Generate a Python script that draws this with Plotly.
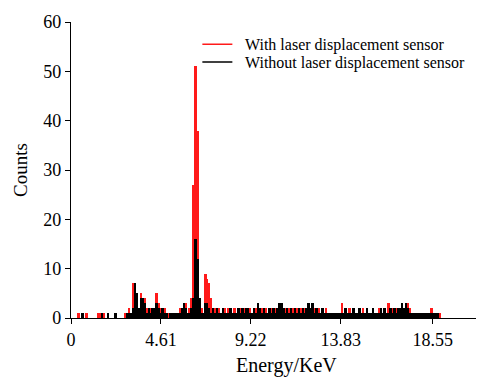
import numpy as np
import plotly.graph_objects as go

# Channel energies (keV), 0.1 keV per channel
channel_width = 0.1
energy = np.round(np.arange(191) * channel_width, 1)

with_sensor = [
    0, 0, 0, 0, 1, 0, 0, 0, 1, 0,
    0, 0, 0, 0, 1, 1, 0, 1, 0, 1,
    0, 0, 0, 0, 0, 0, 0, 0, 1, 1,
    2, 1, 7, 7, 4, 2, 5, 4, 4, 2,
    1, 2, 1, 2, 5, 3, 2, 1, 2, 1,
    1, 1, 1, 1, 1, 1, 2, 1, 3, 3,
    1, 2, 4, 27, 51, 38, 4, 2, 1, 9,
    8, 7, 4, 2, 2, 1, 2, 1, 1, 2,
    1, 2, 1, 1, 2, 1, 1, 2, 1, 2,
    1, 1, 2, 1, 1, 2, 2, 1, 2, 1,
    2, 1, 1, 2, 1, 2, 1, 2, 2, 1,
    2, 1, 2, 1, 2, 1, 2, 1, 2, 1,
    2, 1, 2, 1, 2, 2, 1, 2, 1, 1,
    1, 2, 1, 1, 1, 1, 1, 1, 1, 3,
    1, 1, 1, 2, 1, 1, 1, 1, 1, 1,
    2, 1, 1, 1, 1, 1, 1, 1, 2, 1,
    1, 1, 1, 3, 1, 2, 1, 2, 1, 2,
    2, 1, 3, 3, 2, 1, 1, 1, 1, 1,
    1, 1, 1, 1, 1, 2, 1, 1, 1, 1,
    0,
]

without_sensor = [
    0, 0, 0, 0, 0, 0, 1, 0, 0, 0,
    0, 0, 0, 0, 0, 0, 1, 0, 0, 1,
    0, 0, 0, 1, 0, 0, 0, 0, 0, 1,
    1, 1, 2, 7, 5, 2, 4, 4, 3, 1,
    2, 1, 2, 2, 3, 2, 1, 2, 1, 1,
    0, 1, 1, 1, 1, 1, 1, 2, 3, 2,
    1, 1, 2, 4, 16, 12, 4, 1, 1, 3,
    3, 2, 1, 2, 1, 2, 1, 1, 2, 1,
    1, 1, 2, 1, 1, 1, 2, 1, 2, 1,
    2, 2, 1, 1, 2, 1, 3, 2, 1, 2,
    1, 1, 2, 1, 2, 1, 2, 3, 3, 2,
    1, 2, 1, 2, 1, 2, 1, 2, 1, 2,
    1, 2, 3, 2, 3, 1, 2, 1, 1, 2,
    1, 1, 1, 1, 1, 1, 1, 1, 1, 1,
    1, 2, 1, 1, 1, 2, 1, 1, 2, 1,
    1, 1, 2, 1, 1, 2, 1, 1, 1, 2,
    1, 2, 1, 1, 2, 1, 2, 1, 2, 2,
    3, 2, 3, 2, 1, 1, 1, 1, 1, 1,
    1, 1, 1, 1, 1, 1, 1, 1, 1, 0,
    0,
]

x_tick_vals = [0, 4.61, 9.22, 13.83, 18.55]
x_tick_text = ["0", "4.61", "9.22", "13.83", "18.55"]
y_tick_vals = [0, 10, 20, 30, 40, 50, 60]

series_names = ["With laser displacement sensor", "Without laser displacement sensor"]
series_colors = ["#ff1a1a", "#000000"]
legend_ids = ["legend", "legend2"]
legend_tops = [0.982, 0.922]
legend_text_y = [0.923, 0.862]

font_family = "Liberation Serif"

fig = go.Figure()
for name, vals, col in zip(series_names, [with_sensor, without_sensor], series_colors):
    fig.add_trace(go.Bar(
        x=energy, y=vals, width=channel_width,
        marker=dict(color=col, line=dict(width=0)),
        showlegend=False, name=name, hoverinfo="x+y",
    ))
# legend line samples (one legend per row); labels set as serif annotations
for name, col, lid in zip(series_names, series_colors, legend_ids):
    fig.add_trace(go.Scatter(
        x=[None], y=[None], mode="lines", name=" ", legend=lid,
        line=dict(color=col, width=1.5), hoverinfo="skip",
    ))

annotations = [dict(
    text="Energy/KeV", xref="paper", yref="paper", x=0.532, y=-0.16,
    xanchor="center", yanchor="middle", showarrow=False,
    font=dict(size=20, family=font_family, color="black"),
)]
for name, ty in zip(series_names, legend_text_y):
    annotations.append(dict(
        text=name, xref="paper", yref="paper", x=0.424, y=ty,
        xanchor="left", yanchor="middle", showarrow=False,
        font=dict(size=16, family=font_family, color="black"),
    ))

legend_layout = {}
for lid, top in zip(legend_ids, legend_tops):
    legend_layout[lid] = dict(
        x=0.312, y=top, xanchor="left", yanchor="top",
        bgcolor="rgba(0,0,0,0)", borderwidth=0, itemwidth=30,
        font=dict(size=16, family=font_family, color="black"),
    )

fig.update_layout(
    width=493, height=377,
    margin=dict(l=71, r=17, t=20, b=59),
    paper_bgcolor="white", plot_bgcolor="white",
    barmode="overlay", bargap=0,
    font=dict(family=font_family, color="black"),
    showlegend=True,
    xaxis=dict(
        range=[0, 20.77], tickmode="array", tickvals=x_tick_vals, ticktext=x_tick_text,
        showgrid=False, zeroline=False, showline=True, linecolor="black", linewidth=1.2,
        ticks="outside", ticklen=5, tickcolor="black", tickwidth=1.2,
        tickfont=dict(size=18, family=font_family, color="black"),
    ),
    yaxis=dict(
        range=[0, 60], tickmode="array", tickvals=y_tick_vals,
        showgrid=False, zeroline=False, showline=True, linecolor="black", linewidth=1.2,
        ticks="outside", ticklen=5, tickcolor="black", tickwidth=1.2,
        tickfont=dict(size=18, family=font_family, color="black"),
        title=dict(text="Counts", font=dict(size=19, family=font_family, color="black"), standoff=10),
    ),
    annotations=annotations,
    **legend_layout,
)

fig.write_html("out.html", config={"displayModeBar": False},
               post_script="document.body.style.margin='0';")
